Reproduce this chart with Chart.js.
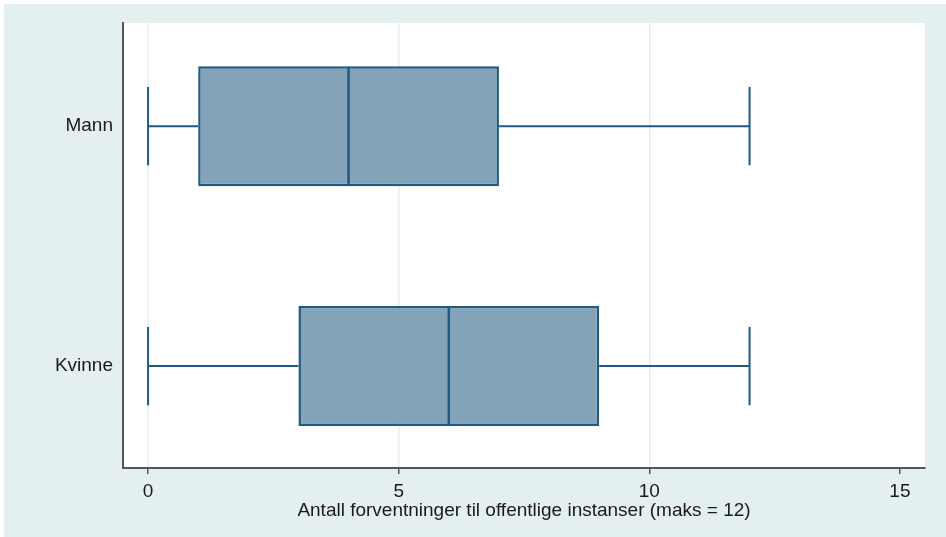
<!DOCTYPE html>
<html>
<head>
<meta charset="utf-8">
<script src="https://cdn.jsdelivr.net/npm/chart.js@4"></script>
<style>
  html, body { margin: 0; padding: 0; background: #ffffff; }
  #wrap { position: absolute; left: 4px; top: 4px; width: 942px; height: 533px; background: #e4eff0; }
</style>
</head>
<body>
<div id="wrap"><canvas id="boxChart" width="942" height="533"></canvas></div>
<script>
// kategorier og kvartiler (lest av figuren)
const categories = ['Mann', 'Kvinne'];
const minVals = [0, 0];
const q1Vals = [1, 3];
const medianVals = [4, 6];
const q3Vals = [7, 9];
const maxVals = [12, 12];
const xTicks = [0, 5, 10, 15];
const xTitle = 'Antall forventninger til offentlige instanser (maks = 12)';

const boxColor = '#84a3b8';
const lineColor = '#1f5a82';
const textFont = { family: 'Liberation Sans, Arial, sans-serif', size: 19 };
const capHalf = 0.163; // halv lengde på whisker-endene (i y-enheter)
const boxHalf = 0.248; // halv høyde på boksen (brukes til medianstreken)

// whisker-linjer, ender og median; null gir brudd mellom segmentene
const linePts = [];
categories.forEach((c, i) => {
    linePts.push({ x: minVals[i], y: i }, { x: q1Vals[i], y: i }, { x: null, y: null });
    linePts.push({ x: q3Vals[i], y: i }, { x: maxVals[i], y: i }, { x: null, y: null });
    linePts.push({ x: minVals[i], y: i - capHalf }, { x: minVals[i], y: i + capHalf }, { x: null, y: null });
    linePts.push({ x: maxVals[i], y: i - capHalf }, { x: maxVals[i], y: i + capHalf }, { x: null, y: null });
});
const medianPts = [];
categories.forEach((c, i) => {
    medianPts.push({ x: medianVals[i], y: i - boxHalf }, { x: medianVals[i], y: i + boxHalf }, { x: null, y: null });
});

const plotBg = {
    id: 'plotBg',
    beforeDraw(chart) {
        const { ctx, chartArea: a } = chart;
        ctx.save();
        ctx.fillStyle = '#ffffff';
        ctx.fillRect(a.left, a.top, a.right - a.left, a.bottom - a.top);
        ctx.restore();
    }
};

new Chart(document.getElementById('boxChart'), {
    data: {
        datasets: [
            {
                type: 'bar',
                indexAxis: 'y',
                order: 2,
                data: categories.map((c, i) => ({ y: i, x: [q1Vals[i], q3Vals[i]] })),
                backgroundColor: boxColor,
                borderColor: lineColor,
                borderWidth: 2.5,
                borderSkipped: false,
                categoryPercentage: 0.5,
                barPercentage: 1
            },
            {
                type: 'scatter',
                order: 1,
                data: linePts,
                showLine: true,
                spanGaps: false,
                borderColor: lineColor,
                borderWidth: 2,
                pointRadius: 0
            },
            {
                type: 'scatter',
                order: 0,
                data: medianPts,
                showLine: true,
                spanGaps: false,
                borderColor: lineColor,
                borderWidth: 2.5,
                pointRadius: 0
            }
        ]
    },
    options: {
        responsive: false,
        animation: false,
        layout: { padding: { top: 19, right: 21, left: 0, bottom: 15 } },
        plugins: {
            legend: { display: false },
            tooltip: { enabled: false }
        },
        scales: {
            x: {
                type: 'linear',
                min: -0.5,
                max: 15.5,
                afterBuildTicks: s => { s.ticks = xTicks.map(v => ({ value: v })); },
                afterFit: s => { s.height = 54; s.paddingLeft = 0; s.paddingRight = 0; },
                grid: {
                    color: ctx => (ctx.tick && ctx.tick.value === 15 ? 'rgba(0,0,0,0)' : '#e4eff0'),
                    lineWidth: 1.5,
                    tickColor: '#555555',
                    tickLength: 6,
                    drawOnChartArea: true
                },
                border: { display: true, color: '#555555', width: 2 },
                ticks: {
                    color: '#1a1a1a',
                    font: textFont,
                    padding: 6
                },
                title: {
                    display: true,
                    text: xTitle,
                    color: '#1a1a1a',
                    font: textFont,
                    padding: { top: 0, bottom: 0 }
                }
            },
            y: {
                type: 'linear',
                reverse: true,
                offset: false,
                min: -0.43,
                max: 1.425,
                afterBuildTicks: s => { s.ticks = categories.map((c, i) => ({ value: i })); },
                afterFit: s => { s.width = 119; s.paddingTop = 0; s.paddingBottom = 0; },
                grid: { color: 'rgba(0,0,0,0)', drawTicks: false },
                border: { display: true, color: '#555555', width: 2 },
                ticks: {
                    color: '#1a1a1a',
                    font: textFont,
                    padding: 10,
                    callback: v => categories[v] ?? ''
                }
            }
        }
    },
    plugins: [plotBg]
});
</script>
</body>
</html>
